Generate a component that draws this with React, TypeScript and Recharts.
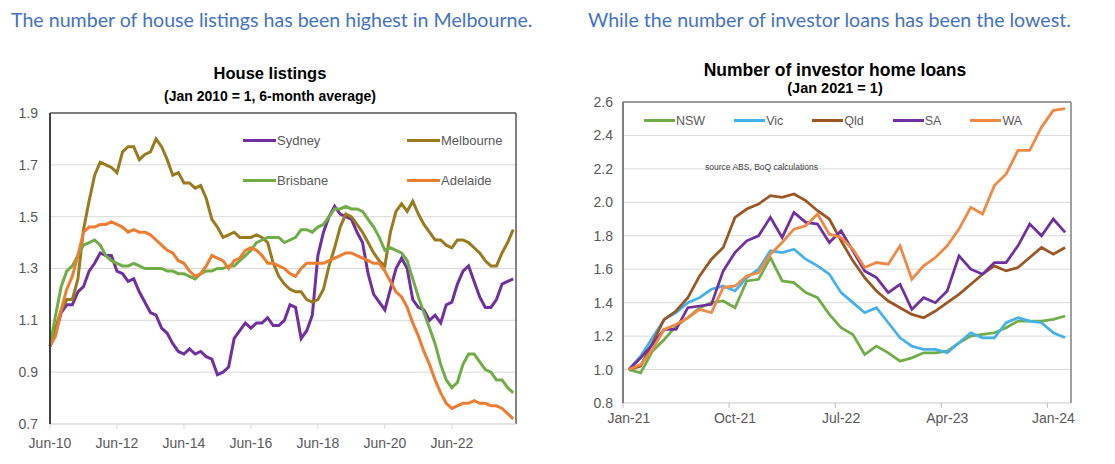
import { LineChart, Line, XAxis, YAxis, CartesianGrid, Legend, ReferenceLine } from 'recharts';

// ---- left chart: house listings (bi-monthly, Jun-10 .. Apr-24, Jan 2010 = 1) ----
const LISTING_TICKS = [0, 12, 24, 36, 48, 60, 72];
const LISTING_TICK_LABELS = ['Jun-10', 'Jun-12', 'Jun-14', 'Jun-16', 'Jun-18', 'Jun-20', 'Jun-22'];
const LISTING_Y_TICKS = [0.7, 0.9, 1.1, 1.3, 1.5, 1.7, 1.9];

const sydney = [
  1.0, 1.05, 1.13, 1.16, 1.16, 1.21, 1.23, 1.29, 1.32, 1.36,
  1.35, 1.35, 1.29, 1.28, 1.25, 1.26, 1.21, 1.17, 1.13, 1.12,
  1.07, 1.05, 1.01, 0.98, 0.97, 0.99, 0.97, 0.98, 0.96, 0.95,
  0.89, 0.9, 0.92, 1.03, 1.06, 1.09, 1.07, 1.09, 1.09, 1.11,
  1.08, 1.08, 1.1, 1.16, 1.15, 1.03, 1.06, 1.12, 1.35, 1.44,
  1.5, 1.54, 1.51, 1.5, 1.49, 1.44, 1.4, 1.28, 1.2, 1.17,
  1.14, 1.22, 1.3, 1.34, 1.3, 1.18, 1.15, 1.14, 1.1, 1.12,
  1.09, 1.16, 1.17, 1.24, 1.29, 1.31, 1.25, 1.19, 1.15, 1.15,
  1.18, 1.24, 1.25, 1.26,
];
const melbourne = [
  1.0, 1.07, 1.14, 1.18, 1.18, 1.26, 1.45, 1.56, 1.66, 1.71,
  1.7, 1.69, 1.67, 1.75, 1.77, 1.77, 1.72, 1.74, 1.75, 1.8,
  1.77, 1.72, 1.66, 1.67, 1.63, 1.63, 1.61, 1.62, 1.57, 1.49,
  1.46, 1.42, 1.43, 1.44, 1.42, 1.42, 1.42, 1.43, 1.42, 1.4,
  1.32, 1.27, 1.24, 1.22, 1.21, 1.21, 1.18, 1.17, 1.18, 1.22,
  1.31, 1.38, 1.46, 1.51, 1.5, 1.47, 1.44, 1.4, 1.36, 1.33,
  1.31, 1.44, 1.52, 1.55, 1.52, 1.56, 1.51, 1.47, 1.44, 1.41,
  1.41, 1.39, 1.38, 1.41, 1.41, 1.4, 1.38, 1.36, 1.33, 1.31,
  1.31, 1.36, 1.4, 1.45,
];
const brisbane = [
  1.0, 1.12, 1.23, 1.29, 1.31, 1.35, 1.39, 1.4, 1.41, 1.39,
  1.35, 1.33, 1.32, 1.31, 1.31, 1.32, 1.31, 1.3, 1.3, 1.3,
  1.3, 1.29, 1.29, 1.28, 1.28, 1.27, 1.26, 1.28, 1.29, 1.29,
  1.3, 1.3, 1.31, 1.31, 1.33, 1.35, 1.37, 1.4, 1.41, 1.42,
  1.42, 1.42, 1.4, 1.41, 1.42, 1.45, 1.45, 1.44, 1.46, 1.47,
  1.5, 1.53, 1.53, 1.54, 1.53, 1.53, 1.52, 1.49, 1.46, 1.42,
  1.37, 1.38, 1.37, 1.36, 1.33, 1.26, 1.19, 1.13, 1.07, 1.01,
  0.93, 0.87, 0.84, 0.86, 0.93, 0.97, 0.97, 0.94, 0.91, 0.9,
  0.87, 0.87, 0.84, 0.82,
];
const adelaide = [
  1.0, 1.04, 1.14, 1.22, 1.27, 1.35, 1.44, 1.46, 1.46, 1.47,
  1.47, 1.48, 1.47, 1.46, 1.44, 1.45, 1.44, 1.44, 1.43, 1.41,
  1.39, 1.37, 1.36, 1.33, 1.32, 1.29, 1.27, 1.28, 1.31, 1.35,
  1.34, 1.33, 1.3, 1.33, 1.34, 1.37, 1.38, 1.37, 1.35, 1.32,
  1.32, 1.31, 1.3, 1.28, 1.27, 1.3, 1.32, 1.32, 1.32, 1.32,
  1.33, 1.34, 1.35, 1.36, 1.36, 1.35, 1.34, 1.33, 1.32, 1.32,
  1.29, 1.25, 1.21, 1.19, 1.15, 1.09, 1.04, 0.98, 0.93, 0.87,
  0.82, 0.78, 0.76, 0.77, 0.78, 0.78, 0.79, 0.78, 0.78, 0.77,
  0.77, 0.76, 0.74, 0.72,
];

// ---- right chart: investor home loans (monthly, Jan-21 .. Feb-24, Jan 2021 = 1) ----
const LOAN_TICKS = [0, 9, 18, 27, 36];
const LOAN_TICK_LABELS = ['Jan-21', 'Oct-21', 'Jul-22', 'Apr-23', 'Jan-24'];
const LOAN_Y_TICKS = [0.8, 1.0, 1.2, 1.4, 1.6, 1.8, 2.0, 2.2, 2.4, 2.6];

const nsw = [
  1.0, 0.98, 1.11, 1.18, 1.26, 1.31, 1.37, 1.4, 1.41, 1.37,
  1.53, 1.54, 1.67, 1.53, 1.52, 1.46, 1.43, 1.33, 1.25, 1.21,
  1.09, 1.14, 1.1, 1.05, 1.07, 1.1, 1.1, 1.11, 1.16, 1.2,
  1.21, 1.22, 1.25, 1.29, 1.29, 1.29, 1.3, 1.32,
];
const vic = [
  1.0, 1.08, 1.19, 1.3, 1.34, 1.4, 1.43, 1.48, 1.5, 1.47,
  1.55, 1.6, 1.71, 1.7, 1.72, 1.66, 1.62, 1.57, 1.46, 1.4,
  1.34, 1.37, 1.28, 1.19, 1.14, 1.12, 1.12, 1.1, 1.16, 1.22,
  1.19, 1.19, 1.28, 1.31, 1.29, 1.28, 1.22, 1.19,
];
const qld = [
  1.0, 1.02, 1.16, 1.3, 1.35, 1.43, 1.56, 1.66, 1.73, 1.91,
  1.96, 1.99, 2.04, 2.03, 2.05, 2.01, 1.95, 1.9, 1.77, 1.65,
  1.55, 1.47, 1.41, 1.37, 1.33, 1.31, 1.35, 1.4, 1.45, 1.51,
  1.57, 1.62, 1.59, 1.61, 1.67, 1.73, 1.69, 1.73,
];
const sa = [
  1.0, 1.07, 1.15, 1.24, 1.24, 1.37, 1.38, 1.39, 1.59, 1.7,
  1.77, 1.8, 1.91, 1.79, 1.94, 1.88, 1.87, 1.76, 1.83, 1.71,
  1.59, 1.55, 1.46, 1.51, 1.36, 1.43, 1.4, 1.47, 1.68, 1.6,
  1.57, 1.64, 1.64, 1.74, 1.87, 1.8, 1.9, 1.82,
];
const wa = [
  1.0, 1.03, 1.12, 1.24, 1.27, 1.31, 1.36, 1.34, 1.49, 1.5,
  1.56, 1.58, 1.69, 1.76, 1.84, 1.86, 1.93, 1.81, 1.79, 1.72,
  1.61, 1.64, 1.63, 1.74, 1.54, 1.62, 1.67, 1.74, 1.84, 1.97,
  1.93, 2.1, 2.17, 2.31, 2.31, 2.45, 2.55, 2.56,
];

const listingData = sydney.map((v, i) => ({
  period: i,
  sydney: v,
  melbourne: melbourne[i],
  brisbane: brisbane[i],
  adelaide: adelaide[i],
}));

const loanData = nsw.map((v, i) => ({
  month: i,
  nsw: v,
  vic: vic[i],
  qld: qld[i],
  sa: sa[i],
  wa: wa[i],
}));

const listingSeries = [
  { key: 'sydney', name: 'Sydney', color: '#7030A0' },
  { key: 'melbourne', name: 'Melbourne', color: '#9A7A1E' },
  { key: 'brisbane', name: 'Brisbane', color: '#70AD47' },
  { key: 'adelaide', name: 'Adelaide', color: '#ED7D31' },
];

const loanSeries = [
  { key: 'nsw', name: 'NSW', color: '#70AD47' },
  { key: 'vic', name: 'Vic', color: '#45B1EA' },
  { key: 'qld', name: 'Qld', color: '#9C5623' },
  { key: 'sa', name: 'SA', color: '#7030A0' },
  { key: 'wa', name: 'WA', color: '#EF8944' },
];

const AXIS_FONT = '"Liberation Sans", Arial, sans-serif';
const GREY = '#595959';

function ListingLegend() {
  return (
    <div style={{ display: 'grid', gridTemplateColumns: '164px 110px', rowGap: 25, fontFamily: AXIS_FONT, fontSize: 13, color: GREY }}>
      {listingSeries.map((s) => (
        <div key={s.key} style={{ display: 'flex', alignItems: 'center', height: 15 }}>
          <span style={{ width: 33, height: 3, background: s.color, marginRight: 1 }} />
          <span>{s.name}</span>
        </div>
      ))}
    </div>
  );
}

function LoanLegend() {
  return (
    <div style={{ display: 'flex', gap: 29, fontFamily: AXIS_FONT, fontSize: 12.5, color: GREY }}>
      {loanSeries.map((s) => (
        <div key={s.key} style={{ display: 'flex', alignItems: 'center', height: 15 }}>
          <span style={{ width: 31, height: 3, background: s.color, marginRight: 1 }} />
          <span>{s.name}</span>
        </div>
      ))}
    </div>
  );
}

// ticks sit between month bands, labels in the band centre
const LoanTick = ({ x, y, payload }: any) => {
  const idx = LOAN_TICKS.indexOf(payload.value);
  return (
    <g>
      <line x1={x - 5.9} x2={x - 5.9} y1={y} y2={y + 5} stroke="#BFBFBF" />
      <text x={x} y={y + 20} textAnchor="middle" fill={GREY} fontSize={14} fontFamily={AXIS_FONT}>
        {LOAN_TICK_LABELS[idx]}
      </text>
    </g>
  );
};

const captionStyle: React.CSSProperties = {
  position: 'absolute',
  top: 8,
  fontFamily: 'Lato, "Open Sans", sans-serif',
  fontSize: 19.6,
  color: '#4472C4',
  whiteSpace: 'nowrap',
};

const titleStyle: React.CSSProperties = {
  position: 'absolute',
  fontFamily: AXIS_FONT,
  fontWeight: 'bold',
  color: '#000',
  textAlign: 'center',
  whiteSpace: 'nowrap',
};

export default function App() {
  return (
    <div style={{ position: 'absolute', left: 0, top: 0, width: 1115, height: 464, background: '#fff', overflow: 'hidden' }}>
      <div style={{ ...captionStyle, left: 11 }}>The number of house listings has been highest in Melbourne.</div>
      <div style={{ ...captionStyle, left: 588 }}>While the number of investor loans has been the lowest.</div>

      <div style={{ ...titleStyle, left: 120, width: 300, top: 64, fontSize: 16.5 }}>House listings</div>
      <div style={{ ...titleStyle, left: 120, width: 300, top: 88, fontSize: 14 }}>(Jan 2010 = 1, 6-month average)</div>

      <div style={{ ...titleStyle, left: 685, width: 300, top: 60, fontSize: 17.5 }}>Number of investor home loans</div>
      <div style={{ ...titleStyle, left: 685, width: 300, top: 80, fontSize: 14.5 }}>(Jan 2021 = 1)</div>

      <div style={{ position: 'absolute', left: 0, top: 0 }}>
        <LineChart width={560} height={464} data={listingData} margin={{ top: 113, right: 44, bottom: 10, left: 0 }}>
          <CartesianGrid vertical={false} stroke="#D9D9D9" />
          <XAxis
            dataKey="period"
            type="number"
            domain={[0, 83.5]}
            ticks={LISTING_TICKS}
            tickFormatter={(v: number) => LISTING_TICK_LABELS[LISTING_TICKS.indexOf(v)]}
            height={30}
            axisLine={{ stroke: '#D9D9D9' }}
            tickLine={{ stroke: '#D9D9D9' }}
            tickSize={5}
            tickMargin={9}
            tick={{ fill: GREY, fontSize: 14, fontFamily: AXIS_FONT }}
          />
          <YAxis
            type="number"
            domain={[0.7, 1.9]}
            ticks={LISTING_Y_TICKS}
            tickFormatter={(v: number) => v.toFixed(1)}
            width={50}
            axisLine={{ stroke: '#404040', strokeWidth: 2 }}
            tickLine={false}
            tickSize={0}
            tickMargin={12}
            tick={{ fill: GREY, fontSize: 14, fontFamily: AXIS_FONT }}
          />
          <ReferenceLine y={1.9} stroke="#595959" strokeWidth={1.5} />
          <ReferenceLine x={83.5} stroke="#595959" strokeWidth={1.5} />
          <Legend
            layout="vertical"
            align="center"
            verticalAlign="middle"
            wrapperStyle={{ left: 243, top: 133, width: 280 }}
            content={() => <ListingLegend />}
          />
          {listingSeries.map((s) => (
            <Line
              key={s.key}
              type="linear"
              dataKey={s.key}
              name={s.name}
              stroke={s.color}
              strokeWidth={3}
              dot={false}
              isAnimationActive={false}
            />
          ))}
        </LineChart>
      </div>

      <div style={{ position: 'absolute', left: 560, top: 0 }}>
        <LineChart width={555} height={464} data={loanData} margin={{ top: 102, right: 44, bottom: 31, left: 0 }}>
          <CartesianGrid vertical={false} stroke="#D9D9D9" />
          <XAxis
            dataKey="month"
            type="number"
            domain={[-0.5, 37.5]}
            ticks={LOAN_TICKS}
            height={30}
            axisLine={{ stroke: '#D9D9D9' }}
            tickLine={false}
            tickSize={0}
            tickMargin={0}
            tick={LoanTick}
          />
          <YAxis
            type="number"
            domain={[0.8, 2.6]}
            ticks={LOAN_Y_TICKS}
            tickFormatter={(v: number) => v.toFixed(1)}
            width={63}
            axisLine={{ stroke: '#808080', strokeWidth: 2 }}
            tickLine={false}
            tickSize={0}
            tickMargin={10}
            tick={{ fill: GREY, fontSize: 14, fontFamily: AXIS_FONT }}
          />
          <ReferenceLine y={2.6} stroke="#808080" strokeWidth={1.5} />
          <ReferenceLine x={37.5} stroke="#808080" strokeWidth={1.5} />
          <Legend
            layout="vertical"
            align="center"
            verticalAlign="middle"
            wrapperStyle={{ left: 84, top: 113, width: 420 }}
            content={() => <LoanLegend />}
          />
          {loanSeries.map((s) => (
            <Line
              key={s.key}
              type="linear"
              dataKey={s.key}
              name={s.name}
              stroke={s.color}
              strokeWidth={2.75}
              dot={false}
              isAnimationActive={false}
            />
          ))}
        </LineChart>
      </div>

      <div style={{ position: 'absolute', left: 705, top: 162, fontFamily: AXIS_FONT, fontSize: 8.5, color: '#404040', whiteSpace: 'nowrap' }}>
        source ABS, BoQ calculations
      </div>
    </div>
  );
}
